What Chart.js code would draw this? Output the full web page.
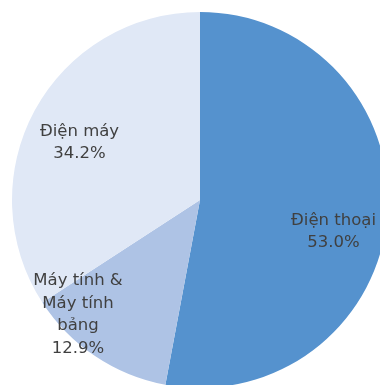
<!DOCTYPE html>
<html lang="vi">
<head>
    <meta charset="UTF-8">
    <title>Cơ cấu doanh thu</title>
    <script src="https://cdn.jsdelivr.net/npm/chart.js@4"></script>
    <style>
        html, body { margin: 0; padding: 0; background: #fff; overflow: hidden; }
        #wrap { width: 400px; height: 400px; }
    </style>
</head>
<body>
    <div id="wrap">
        <canvas id="pieChart" width="400" height="400"></canvas>
    </div>

    <script>
        // Dữ liệu
        const categories = [['Điện thoại'], ['Máy tính &', 'Máy tính', 'bảng'], ['Điện máy']];
        const shares = [53.0, 12.9, 34.2];
        const sliceColors = ['#5592ce', '#aec3e5', '#e0e8f6'];

        // vị trí nhãn: tỉ lệ bán kính và độ lệch góc (độ) so với giữa lát
        const labelRadius = [0.73, 0.89, 0.71];
        const labelShift = [8, 13, -3];

        const sliceLabels = {
            id: 'sliceLabels',
            afterDatasetsDraw(chart) {
                const ctx = chart.ctx;
                const arcs = chart.getDatasetMeta(0).data;
                ctx.save();
                ctx.font = '16.5px "DejaVu Sans", sans-serif';
                ctx.fillStyle = '#404040';
                ctx.textAlign = 'center';
                ctx.textBaseline = 'middle';
                const lineH = 22.5;
                arcs.forEach((arc, i) => {
                    const mid = (arc.startAngle + arc.endAngle) / 2 + labelShift[i] * Math.PI / 180;
                    const r = arc.outerRadius * labelRadius[i];
                    const cx = arc.x + Math.cos(mid) * r;
                    const cy = arc.y + Math.sin(mid) * r;
                    const lines = categories[i].concat([shares[i].toFixed(1) + '%']);
                    const top = cy - (lines.length - 1) * lineH / 2;
                    lines.forEach((t, k) => ctx.fillText(t, cx, top + k * lineH));
                });
                ctx.restore();
            }
        };

        new Chart(document.getElementById('pieChart'), {
            type: 'pie',
            data: {
                labels: categories.map(c => c.join(' ')),
                datasets: [{
                    data: shares,
                    backgroundColor: sliceColors,
                    borderWidth: 0
                }]
            },
            options: {
                responsive: false,
                animation: false,
                layout: { padding: 12 },
                plugins: {
                    legend: { display: false },
                    tooltip: { enabled: false }
                }
            },
            plugins: [sliceLabels]
        });
    </script>
</body>
</html>
